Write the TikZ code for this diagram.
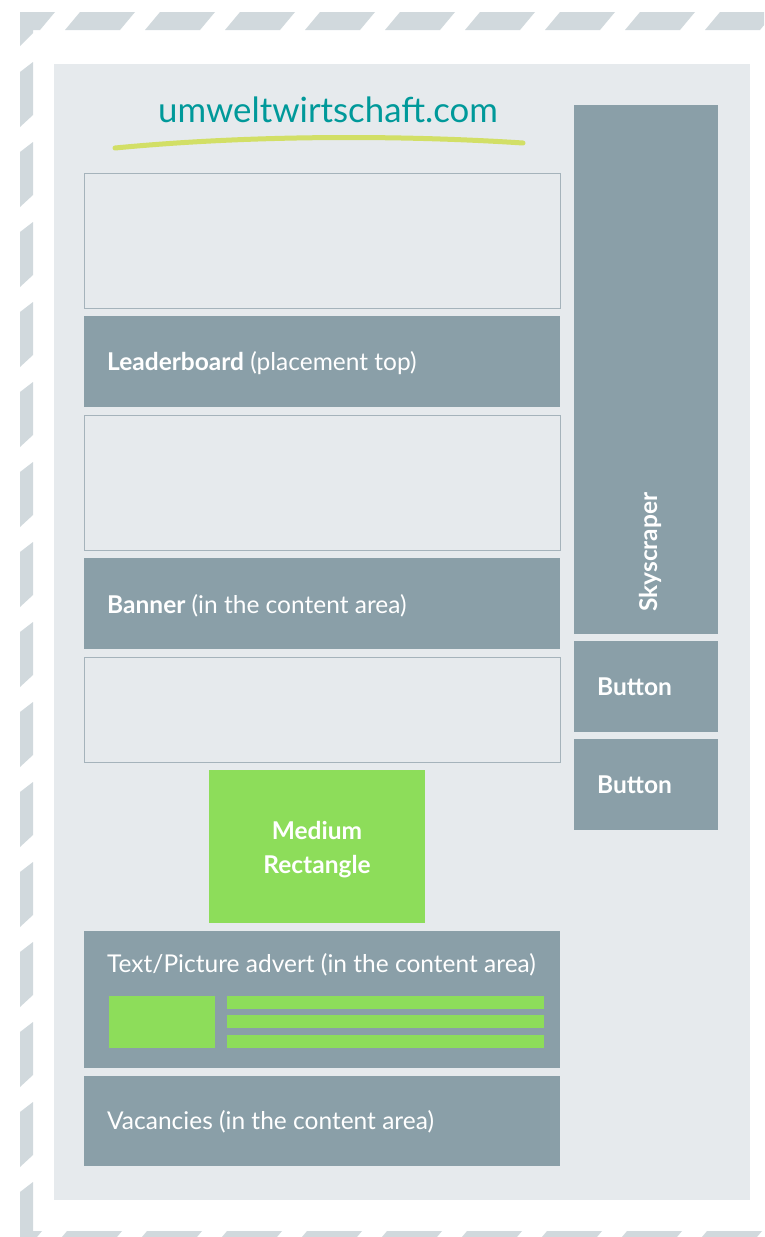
\documentclass[tikz,border=0pt]{standalone}
\usepackage{fontspec}
\setmainfont{Lato}
\usetikzlibrary{positioning}

\definecolor{bandgray}{HTML}{D1D9DD}
\definecolor{panel}{HTML}{E6EAED}
\definecolor{slate}{HTML}{8A9FA8}
\definecolor{slotline}{HTML}{A5B3BB}
\definecolor{adgreen}{HTML}{8DDD5A}
\definecolor{teal}{HTML}{00999A}
\definecolor{swoosh}{HTML}{D2DF66}

\begin{document}
\begin{tikzpicture}
            [x=1pt,y=-1pt,
                band/.style={fill=bandgray},
                adbox/.style={fill=slate,inner sep=0pt,anchor=north west},
                greenbox/.style={fill=adgreen,inner sep=0pt,anchor=north west},
                slot/.style={draw=slotline,fill=panel,line width=0.8pt,inner sep=0pt,anchor=north west},
                adtext/.style={text=white,font=\fontsize{24.5}{34}\selectfont,inner sep=0pt,anchor=base west}]
            \useasboundingbox (0,0) rectangle (764,1237);
            \clip (0,0) rectangle (764,1237);

            %draw the striped envelope border
            \fill[band] (20,12) -- (55,12) -- (40,30) -- (33,30) -- (33,33) -- (20,46) -- cycle;
            \foreach \k in {0,...,8}
                \fill[band] (80+80*\k,12) -- (135+80*\k,12) -- (120+80*\k,30) -- (65+80*\k,30) -- cycle;
            \foreach \k in {0,...,13}
                \fill[band] (33,62+80*\k) -- (33,115+80*\k) -- (20,127+80*\k) -- (20,72+80*\k) -- cycle;
            \fill[band] (20,1192) -- (33,1182) -- (33,1231) -- (42,1231) -- (37,1237) -- (20,1237) -- cycle;
            \foreach \k in {0,...,8}
                \fill[band] (67+80*\k,1231) -- (122+80*\k,1231) -- (107+80*\k,1249) -- (52+80*\k,1249) -- cycle;

            %draw the page and its header
            \fill[panel] (54,64) rectangle (750,1200);
            \node[text=teal,font=\fontsize{34.8}{40}\selectfont,inner sep=0pt,anchor=base] (site) at (328,122) {umweltwirtschaft.com};
            \draw[swoosh,line width=5pt,line cap=round] (115,148) .. controls (250,135) and (400,135) .. (523,143);

            %draw the content column
            \node[slot,minimum width=476pt,minimum height=135pt] (slot1) at (84,173) {};
            \node[adbox,minimum width=476pt,minimum height=91pt] (leader) at (84,316) {};
            \node[slot,minimum width=476pt,minimum height=135pt] (slot2) at (84,415) {};
            \node[adbox,minimum width=476pt,minimum height=91pt] (banner) at (84,558) {};
            \node[slot,minimum width=476pt,minimum height=105pt] (slot3) at (84,657) {};
            \node[greenbox,minimum width=216pt,minimum height=153pt] (medrect) at (209,770) {};
            \node[adbox,minimum width=476pt,minimum height=137pt] (textpic) at (84,931) {};
            \node[greenbox,minimum width=106pt,minimum height=52pt] (picture) at (109,996) {};
            \foreach \y in {996,1015,1035}
                \node[greenbox,minimum width=317pt,minimum height=13pt] at (227,\y) {};
            \node[adbox,minimum width=476pt,minimum height=90pt] (vacancies) at (84,1076) {};

            %draw the side column
            \node[adbox,minimum width=144pt,minimum height=529pt] (sky) at (574,105) {};
            \node[adbox,minimum width=144pt,minimum height=91pt] (button1) at (574,641) {};
            \node[adbox,minimum width=144pt,minimum height=91pt] (button2) at (574,739) {};

            %labels
            \node[adtext] (leaderlabel) at (107,370) {\textbf{Leaderboard} (placement top)};
            \node[adtext] (bannerlabel) at (107,613) {\textbf{Banner} (in the content area)};
            \node[adtext,anchor=base,align=center] (medlabel) at (317,873) {\textbf{Medium}\\\textbf{Rectangle}};
            \node[adtext] (textpiclabel) at (107,972) {Text/Picture advert (in the content area)};
            \node[adtext] (vaclabel) at (107,1129) {Vacancies (in the content area)};
            \node[adtext,rotate=90] (skylabel) at (657,612) {\textbf{Skyscraper}};
            \node[adtext] (button1label) at (597,695) {\textbf{Button}};
            \node[adtext] (button2label) at (597,793) {\textbf{Button}};
        \end{tikzpicture}
\end{document}
